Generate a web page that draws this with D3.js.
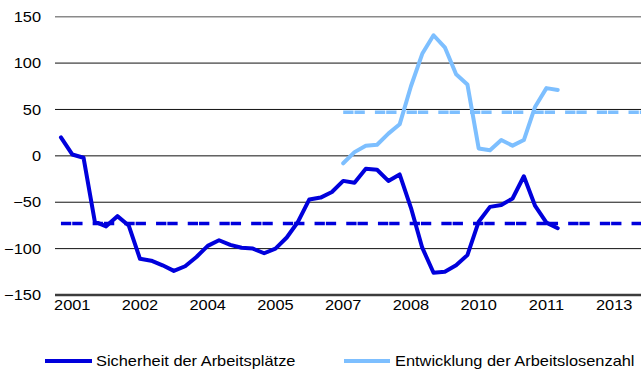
<!DOCTYPE html>
<html>
<head>
<meta charset="utf-8">
<script src="https://cdn.jsdelivr.net/npm/d3@7"></script>
<style>
  html, body { margin: 0; padding: 0; background: #fff; }
  svg { display: block; }
  text { font-family: "Liberation Sans", Arial, sans-serif; fill: #000; }
</style>
</head>
<body>
<svg id="chart" width="641" height="371"></svg>
<script>
// Quarterly categories, 2000 Q4 .. 2013 Q3
const quarters = [];
for (let y = 2000; y <= 2013; y++) {
  for (let q = 1; q <= 4; q++) {
    if ((y === 2000 && q < 4) || (y === 2013 && q > 3)) continue;
    quarters.push(y + " Q" + q);
  }
}

// Labelled categories on the x axis
const xTickQuarters = ["2001 Q1", "2002 Q3", "2004 Q1", "2005 Q3", "2007 Q1", "2008 Q3", "2010 Q1", "2011 Q3", "2013 Q1"];
const xTickLabels   = ["2001", "2002", "2004", "2005", "2007", "2008", "2010", "2011", "2013"];
const yTickValues   = [-150, -100, -50, 0, 50, 100, 150];

// Series
const seriesNames = ["Sicherheit der Arbeitsplätze", "Entwicklung der Arbeitslosenzahl"];
const sicherheit = [20, 1.5, -2, -71, -76, -65, -75, -111, -113, -118, -124, -119, -109, -97, -91,
  -96, -99, -100, -105, -100, -88, -71, -47, -45, -39, -27, -29, -14, -15, -27, -20, -56, -99,
  -126, -125, -118, -107, -71, -55, -53, -46, -22, -54, -72, -78];
const arbeitslosenStart = "2007 Q1";
const arbeitslosen = [-8, 4, 11, 12, 24, 34, 75, 110, 130, 117, 88, 77, 8, 6, 17, 11, 17, 53, 73, 71];

// Long-run average levels (dashed)
const averageLevels = [-73, 47];
const averageStarts = ["2000 Q4", "2007 Q1"];

const colors = ["#0000dc", "#7dbfff"];

const svg = d3.select("#chart");

const x = d3.scaleBand().domain(quarters).range([55.3, 642.4]).paddingInner(0).paddingOuter(0);
const cx = q => x(q) + x.bandwidth() / 2;
const y = d3.scaleLinear().domain([-150, 150]).range([295, 16.7]);

const TEXT_STRETCH = 1.13;
function stretchText(sel) {
  sel.each(function () {
    const t = d3.select(this);
    const tx = +t.attr("x") || 0;
    t.attr("x", 0).attr("transform", `translate(${tx},0) scale(${TEXT_STRETCH},1)`);
  });
}

// Horizontal grid lines
const grid = svg.append("g");
grid.selectAll("line")
  .data(yTickValues)
  .join("line")
  .attr("x1", 55).attr("x2", 641)
  .attr("y1", d => y(d)).attr("y2", d => y(d))
  .attr("stroke", d => d === 150 ? "#8a8a8a" : d === -150 ? "#3c3c3c" : "#111")
  .attr("stroke-width", d => d === 150 ? 1.5 : d === -150 ? 2.5 : 1);

// Y axis labels
const yAxis = svg.append("g")
  .attr("transform", "translate(41,0)")
  .call(d3.axisLeft(y).tickValues(yTickValues).tickSize(0).tickPadding(0).tickFormat(d3.format("d")));
yAxis.select(".domain").remove();
yAxis.selectAll("text").attr("font-size", "14.5px").attr("font-family", "Liberation Sans, Arial, sans-serif").attr("fill", "#000").call(stretchText);

// X axis labels
const xAxis = svg.append("g")
  .attr("transform", "translate(0,297)")
  .call(d3.axisBottom(x).tickValues(xTickQuarters).tickSize(0).tickPadding(3)
    .tickFormat(q => xTickLabels[xTickQuarters.indexOf(q)]));
xAxis.select(".domain").remove();
xAxis.selectAll("text").attr("font-size", "14.5px").attr("font-family", "Liberation Sans, Arial, sans-serif").attr("fill", "#000").call(stretchText);

// Dashed average lines
averageLevels.forEach((lvl, i) => {
  const startIdx = quarters.indexOf(averageStarts[i]);
  const qs = quarters.slice(startIdx);
  svg.append("line")
    .attr("x1", cx(qs[0])).attr("x2", cx(qs[qs.length - 1]) + 6)
    .attr("y1", y(lvl)).attr("y2", y(lvl))
    .attr("stroke", colors[i])
    .attr("stroke-width", 3.5)
    .attr("stroke-dasharray", "10.3,1,10.3,10.1");
});

// Solid series lines
const line = d3.line().x(d => cx(d.q)).y(d => y(d.v));
const s1 = sicherheit.map((v, i) => ({ q: quarters[i], v }));
const off = quarters.indexOf(arbeitslosenStart);
const s2 = arbeitslosen.map((v, i) => ({ q: quarters[off + i], v }));

[s1, s2].forEach((data, i) => {
  svg.append("path")
    .datum(data)
    .attr("d", line)
    .attr("fill", "none")
    .attr("stroke", colors[i])
    .attr("stroke-width", 4)
    .attr("stroke-linejoin", "round")
    .attr("stroke-linecap", "round");
});

// Legend
const legendItems = [
  { x1: 45, x2: 92, tx: 96 },
  { x1: 344, x2: 390, tx: 395 }
];
const legend = svg.append("g").attr("transform", "translate(0,361)");
legendItems.forEach((it, i) => {
  legend.append("line")
    .attr("x1", it.x1).attr("x2", it.x2).attr("y1", 0).attr("y2", 0)
    .attr("stroke", colors[i]).attr("stroke-width", 4);
  legend.append("text")
    .attr("x", it.tx).attr("y", 0).attr("dy", "0.35em")
    .attr("font-size", "14.5px")
    .text(seriesNames[i])
    .call(stretchText);
});
</script>
</body>
</html>
